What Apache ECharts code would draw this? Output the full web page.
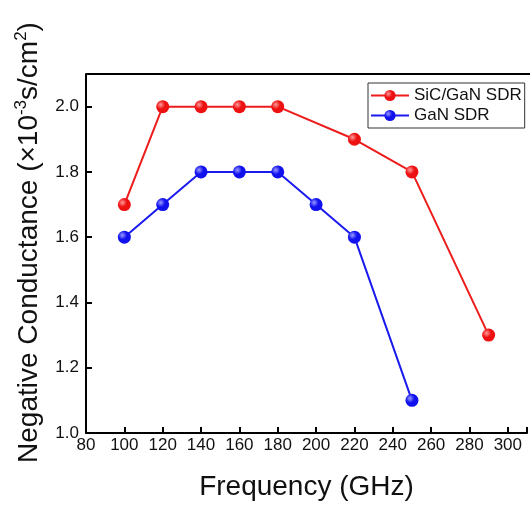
<!DOCTYPE html>
<html><head><meta charset="utf-8">
<script src="https://cdn.jsdelivr.net/npm/echarts@6/dist/echarts.min.js"></script>
<style>html,body{margin:0;padding:0;background:#fff}#c{width:530px;height:507px}</style>
</head><body><div id="c"></div>
<script>
const sicFreq = [100, 120, 140, 160, 180, 220, 250, 290];
const sicVals = [1.7, 2.0, 2.0, 2.0, 2.0, 1.9, 1.8, 1.3];
const ganFreq = [100, 120, 140, 160, 180, 200, 220, 250];
const ganVals = [1.6, 1.7, 1.8, 1.8, 1.8, 1.7, 1.6, 1.1];
const seriesNames = ['SiC/GaN SDR', 'GaN SDR'];

function ball(c, light) {
  return {type:'radial', x:0.35, y:0.35, r:0.75,
    colorStops:[{offset:0,color:light},{offset:0.45,color:c},{offset:1,color:c}]};
}
const chart = echarts.init(document.getElementById('c'), null, {renderer:'canvas'});
const font = 'Liberation Sans, Arial, sans-serif';
chart.setOption({
  animation:false,
  textStyle:{fontFamily:font},
  grid:{left:86, top:74, right:-2, bottom:74, containLabel:false},
  legend:{
    orient:'vertical', left:368, top:83,
    borderColor:'#333', borderWidth:1, padding:[4,3,4,2], itemGap:3,
    itemWidth:38, itemHeight:14,
    textStyle:{fontSize:17, color:'#111', fontFamily:font},
    data:seriesNames
  },
  xAxis:{
    type:'value', min:80, max:310, interval:20,
    axisLine:{onZero:false, lineStyle:{color:'#000', width:2}},
    axisTick:{inside:true, length:6, lineStyle:{color:'#000', width:2}},
    axisLabel:{fontSize:17, color:'#111', margin:4, fontFamily:font,
      formatter:v=> v>300 ? '' : String(v)},
    splitLine:{show:false},
    name:'Frequency (GHz)', nameLocation:'middle', nameGap:40,
    nameTextStyle:{fontSize:28, color:'#111', fontFamily:font}
  },
  yAxis:{
    type:'value', min:1.0, max:2.1, interval:0.2,
    axisLine:{lineStyle:{color:'#000', width:2}},
    axisTick:{inside:true, length:6, lineStyle:{color:'#000', width:2}},
    axisLabel:{fontSize:17, color:'#111', margin:7, fontFamily:font,
      formatter:v=> Math.abs(v-2.1)<1e-6 ? '' : v.toFixed(1)},
    splitLine:{show:false},
    name:'{a|Negative Conductance (×10}{s|-3}{a|s/cm}{s|2}{a|)}',
    nameLocation:'middle', nameGap:40, nameRotate:90,
    nameTextStyle:{color:'#111', fontFamily:font, padding:[0,0,0,22],
      rich:{a:{fontSize:28, color:'#111', fontFamily:font},
            s:{fontSize:17, color:'#111', fontFamily:font, padding:[0,0,16,0]}}}
  },
  series:[
    {name:seriesNames[0], type:'line', data:sicFreq.map((f,i)=>[f,sicVals[i]]),
     symbol:'circle', symbolSize:13,
     lineStyle:{color:'#ee1c1c', width:2},
     itemStyle:{color:ball('#ee1111','#ff9a9a'), borderWidth:0}},
    {name:seriesNames[1], type:'line', data:ganFreq.map((f,i)=>[f,ganVals[i]]),
     symbol:'circle', symbolSize:13,
     lineStyle:{color:'#1a1aee', width:2},
     itemStyle:{color:ball('#1111ee','#9a9aff'), borderWidth:0}}
  ],
  graphic:[{type:'line', shape:{x1:86, y1:74, x2:530, y2:74}, style:{stroke:'#000', lineWidth:2}, z:10}]
});
</script></body></html>
